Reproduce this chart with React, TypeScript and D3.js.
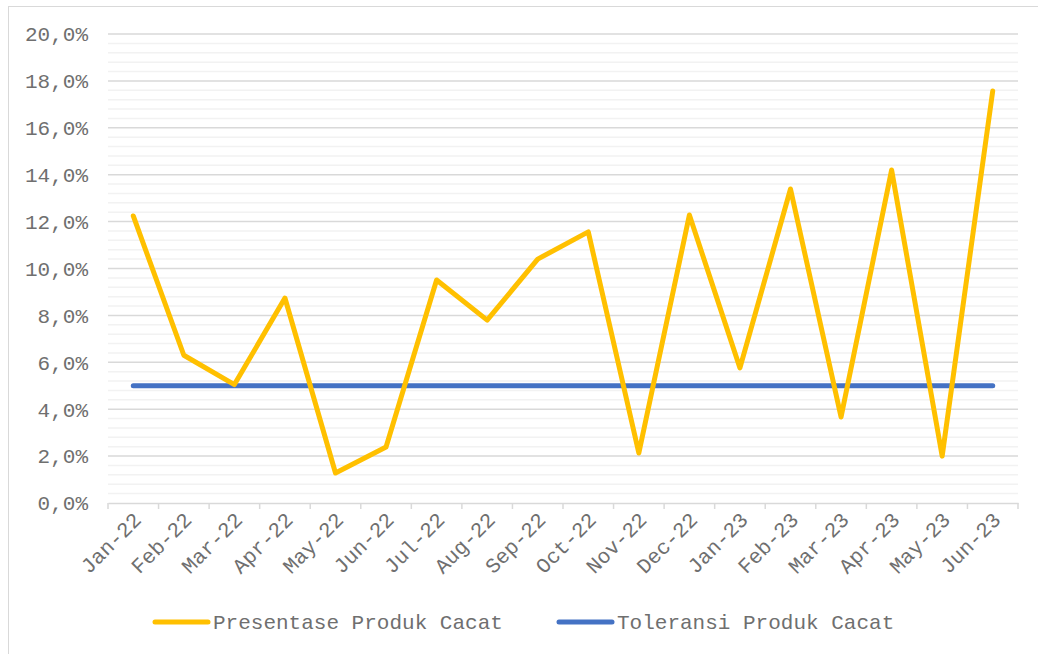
import React, {useEffect, useRef} from "react";
import * as d3 from "d3";

const months = [
    "Jan-22", "Feb-22", "Mar-22", "Apr-22", "May-22", "Jun-22",
    "Jul-22", "Aug-22", "Sep-22", "Oct-22", "Nov-22", "Dec-22",
    "Jan-23", "Feb-23", "Mar-23", "Apr-23", "May-23", "Jun-23",
];
const defectPct = [
    12.24, 6.3, 5.05, 8.74, 1.28, 2.39,
    9.51, 7.8, 10.4, 11.56, 2.13, 12.28,
    5.76, 13.39, 3.67, 14.2, 2.0, 17.57,
];
const tolerancePct = months.map(() => 5);
const yTicks = [0, 2, 4, 6, 8, 10, 12, 14, 16, 18, 20];
const seriesNames = ["Presentase Produk Cacat", "Toleransi Produk Cacat"];
const seriesColors = ["#FFC000", "#4472C4"];

const FONT = "'Courier New', 'Liberation Mono', monospace";
const TEXT_COLOR = "#6f6f6f";

const App: React.FC = () => {
    const ref = useRef<SVGSVGElement | null>(null);

    useEffect(() => {
        if (!ref.current) return;
        const svg = d3.select(ref.current);
        svg.selectAll("*").remove();

        const width = 1038;
        const height = 654;
        const margin = {top: 34, right: 20, bottom: 151, left: 108};
        const chartWidth = width - margin.left - margin.right;
        const chartHeight = height - margin.top - margin.bottom;

        svg.append("rect")
            .attr("x", 8.5).attr("y", 6.5)
            .attr("width", width).attr("height", height)
            .attr("fill", "white")
            .attr("stroke", "#d9d9d9");

        const x = d3.scaleBand().domain(months).range([0, chartWidth]);
        const y = d3.scaleLinear().domain([0, 20]).range([chartHeight, 0]);

        const g = svg.append("g")
            .attr("transform", `translate(${margin.left},${margin.top})`);

        // minor grid
        g.append("g")
            .selectAll("line")
            .data(d3.range(0, 20.01, 0.4).filter((v) => Math.abs(v / 2 - Math.round(v / 2)) > 0.01))
            .join("line")
            .attr("x1", 0).attr("x2", chartWidth)
            .attr("y1", (d) => y(d)).attr("y2", (d) => y(d))
            .attr("stroke", "#f2f2f2")
            .attr("stroke-width", 1.5);

        // major grid
        g.append("g")
            .selectAll("line")
            .data(yTicks.slice(1))
            .join("line")
            .attr("x1", 0).attr("x2", chartWidth)
            .attr("y1", (d) => y(d)).attr("y2", (d) => y(d))
            .attr("stroke", "#d9d9d9")
            .attr("stroke-width", 1.5);

        // y labels
        g.append("g")
            .selectAll("text")
            .data(yTicks)
            .join("text")
            .attr("x", -20)
            .attr("y", (d) => y(d))
            .attr("dy", "0.35em")
            .attr("text-anchor", "end")
            .attr("font-family", FONT)
            .attr("font-size", "21px")
            .attr("fill", TEXT_COLOR)
            .text((d) => d.toFixed(1).replace(".", ",") + "%");

        // x axis
        const xAxis = g.append("g")
            .attr("transform", `translate(0,${chartHeight})`)
            .call(d3.axisBottom(x).tickSize(0).tickFormat(() => ""));
        xAxis.select(".domain").attr("stroke", "#d9d9d9").attr("stroke-width", 1.5);
        xAxis.selectAll(".tick").remove();

        const boundaries = months.map((m) => x(m) as number).concat([chartWidth]);
        g.append("g")
            .selectAll("line")
            .data(boundaries)
            .join("line")
            .attr("x1", (d) => d).attr("x2", (d) => d)
            .attr("y1", chartHeight).attr("y2", chartHeight + 6)
            .attr("stroke", "#d9d9d9")
            .attr("stroke-width", 1.5);

        g.append("g")
            .selectAll("text")
            .data(months)
            .join("text")
            .attr("transform", (d) => `translate(${(x(d) as number) + x.bandwidth() / 2 + 4},${chartHeight + 13}) rotate(-45)`)
            .attr("text-anchor", "end")
            .attr("dy", "0.35em")
            .attr("font-family", FONT)
            .attr("font-size", "21px")
            .attr("fill", TEXT_COLOR)
            .text((d) => d);

        const line = d3.line<number>()
            .x((_, i) => (x(months[i]) as number) + x.bandwidth() / 2)
            .y((d) => y(d));

        g.append("path")
            .datum(tolerancePct)
            .attr("d", line)
            .attr("fill", "none")
            .attr("stroke", seriesColors[1])
            .attr("stroke-width", 5)
            .attr("stroke-linecap", "round");

        g.append("path")
            .datum(defectPct)
            .attr("d", line)
            .attr("fill", "none")
            .attr("stroke", seriesColors[0])
            .attr("stroke-width", 5)
            .attr("stroke-linecap", "round")
            .attr("stroke-linejoin", "round");

        // legend
        const legendX = [153, 557];
        const legend = svg.append("g").attr("transform", "translate(0,622)");
        seriesNames.forEach((name, i) => {
            legend.append("line")
                .attr("x1", legendX[i] + 2).attr("x2", legendX[i] + 55)
                .attr("y1", 0).attr("y2", 0)
                .attr("stroke", seriesColors[i])
                .attr("stroke-width", 5)
                .attr("stroke-linecap", "round");
            legend.append("text")
                .attr("x", legendX[i] + 60)
                .attr("y", 0)
                .attr("dy", "0.35em")
                .attr("font-family", FONT)
                .attr("font-size", "21px")
                .attr("fill", TEXT_COLOR)
                .text(name);
        });
    }, []);

    return (
        <div style={{position: "absolute", left: 0, top: 0}}>
            <svg ref={ref} width={1038} height={654} style={{display: "block"}}></svg>
        </div>
    );
};

export default App;
